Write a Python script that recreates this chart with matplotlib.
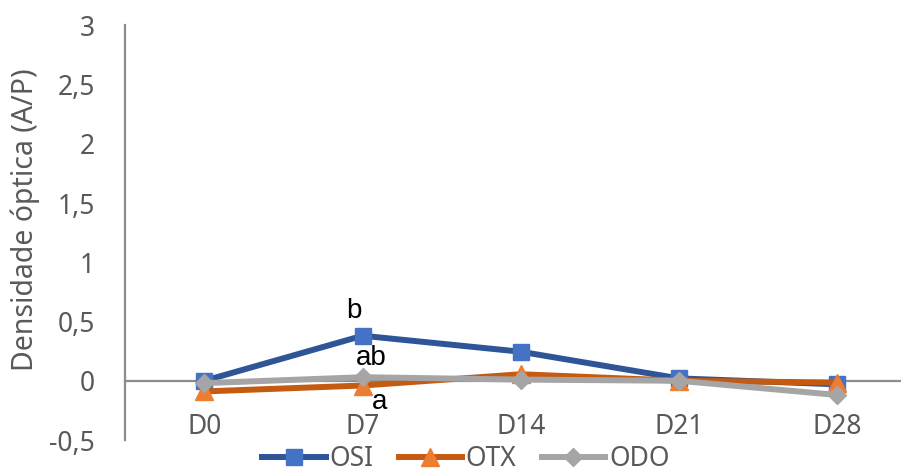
import matplotlib
matplotlib.use('Agg')
import matplotlib.pyplot as plt

DAYS = ['D0', 'D7', 'D14', 'D21', 'D28']
OSI = [0.0, 0.38, 0.245, 0.02, -0.03]
OTX = [-0.09, -0.04, 0.055, 0.0, -0.015]
ODO = [-0.02, 0.03, 0.01, 0.0, -0.12]
Y_TICKS = [-0.5, 0, 0.5, 1, 1.5, 2, 2.5, 3]
# significance letters at D7: text, x, baseline y
LETTERS = [('b', 0.946, 0.53), ('ab', 1.057, 0.13), ('a', 1.108, -0.235)]

TEXT_GREY = '#595959'
AXIS_GREY = '#8C8C8C'

plt.rcParams['font.family'] = ['Noto Sans', 'DejaVu Sans']

fig = plt.figure(figsize=(9.01, 4.74), dpi=100)
ax = fig.add_axes([0.139, 0.0717, 0.878, 0.875])

x = range(len(DAYS))
ax.plot(x, OSI, color='#2F5597', lw=4.3, marker='s', ms=12,
        mfc='#4472C4', mec='#4472C4', label='OSI', zorder=3)
ax.plot(x, OTX, color='#C55A11', lw=4.3, marker='^', ms=13,
        mfc='#ED7D31', mec='#ED7D31', label='OTX', zorder=3)
ax.plot(x, ODO, color='#A5A5A5', lw=4.3, marker='D', ms=9.5,
        mfc='#A5A5A5', mec='#A5A5A5', label='ODO', zorder=3)

for txt, xi, ty in LETTERS:
    ax.text(xi, ty, txt, ha='center', va='baseline', fontsize=20,
            family='Liberation Sans', color='black')

ax.set_xlim(-0.5, 4.5)
ax.set_ylim(-0.5, 3)
ax.set_xticks(list(x))
ax.set_xticklabels(DAYS)
ax.set_yticks(Y_TICKS)
ax.set_yticklabels([('%g' % v).replace('.', ',') for v in Y_TICKS])
ax.tick_params(axis='both', length=0, labelsize=19, colors=TEXT_GREY)
ax.tick_params(axis='y', pad=22)
ax.tick_params(axis='x', pad=23)

for s in ['top', 'right']:
    ax.spines[s].set_visible(False)
ax.spines['bottom'].set_position(('data', 0))
for s in ['bottom', 'left']:
    ax.spines[s].set_color(AXIS_GREY)
    ax.spines[s].set_linewidth(1.6)

ax.set_ylabel('Densidade óptica (A/P)', fontsize=20.5, color=TEXT_GREY)
ax.yaxis.set_label_coords(-0.108, 0.531)

fig.legend(loc='center', ncol=3, frameon=False, fontsize=19,
           labelcolor=TEXT_GREY, handlelength=2.4, handletextpad=0.15,
           columnspacing=0.95, bbox_to_anchor=(0.517, 0.031))

fig.savefig('out.png', dpi=100)
